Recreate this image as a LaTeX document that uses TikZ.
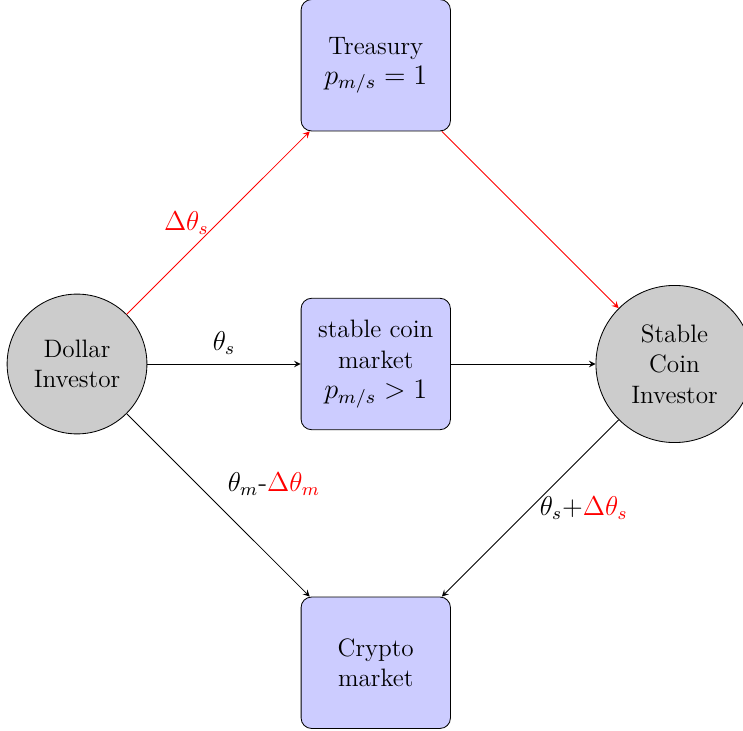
\documentclass[tikz,border=0pt,12pt]{standalone}
\usepackage{graphicx}
\usepackage{tikz}
\usetikzlibrary{math, arrows.meta, positioning}

\newcommand{\boxmath}[1]{\scalebox{1.12}{$#1$}}

\begin{document}
\begin{tikzpicture}[line width=0.4pt,
    market/.style={draw, rounded corners=5pt, fill=blue!20, align=center,
        minimum width=2.5cm, minimum height=2.2cm},
    investor/.style={draw, circle, fill=gray!40, align=center},
    flow/.style={-stealth},
    lbl/.style={scale=1.08}]
    \tikzmath{
        \gap=5;
    }

    \useasboundingbox (-1.289, -6.142) rectangle (11.146, 6.092);

    % investors
    \node [investor, minimum size=2.34cm] (dollar) at (0, 0) {Dollar\\Investor};
    \node [investor, minimum size=2.63cm] (stable) at (2*\gap, 0) {Stable\\Coin\\Investor};

    % markets
    \node [market] (treasury) at (\gap, \gap) {Treasury\\\boxmath{p_{m/s} = 1}};
    \node [market] (coinmkt) at (\gap, 0) {stable coin\\market\\\boxmath{p_{m/s} > 1}};
    \node [market] (crypto) at (\gap, -\gap) {Crypto\\market};

    % flows
    \draw [flow, red] (dollar) -- (treasury)
    node [lbl, left, midway] {$ \Delta\theta_s $};
    \draw [flow, red] (treasury) -- (stable);
    \draw [flow] (dollar) -- (coinmkt)
    node [lbl, above, midway] {$ \theta_s $};
    \draw [flow] (coinmkt) -- (stable);
    \draw [flow] (dollar) -- (crypto)
    node [lbl, above right, midway] {$ \theta_m $-\textcolor{red}{$ \Delta\theta_m $}};
    \draw [flow] (stable) -- (crypto)
    node [lbl, right, midway] {$ \theta_s $+\textcolor{red}{$ \Delta\theta_s $}};
\end{tikzpicture}
\end{document}
